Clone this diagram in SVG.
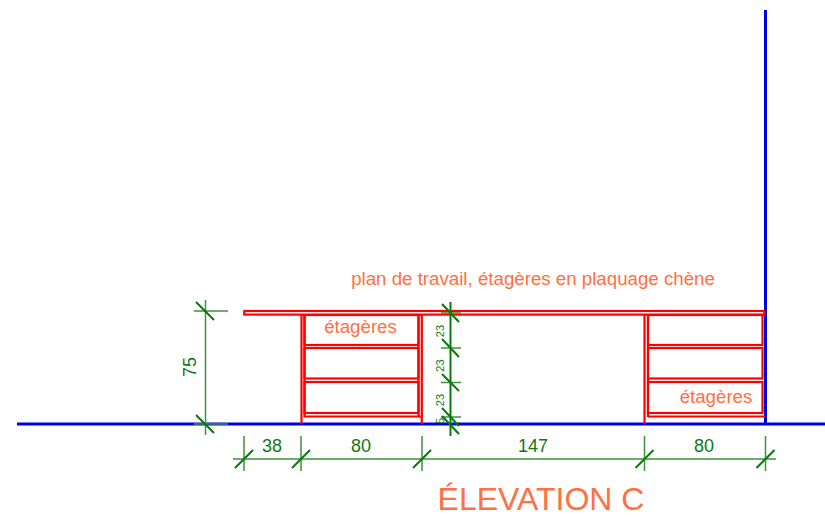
<svg xmlns="http://www.w3.org/2000/svg" width="825" height="521" viewBox="0 0 825 521">
<style>
.w{stroke:#0000e6;stroke-width:3;fill:none}
.r{stroke:#ff0000;stroke-width:2.200;fill:none}
.d{stroke:#3d933d;stroke-width:1.500;fill:none}
.t{stroke:#0a7a0a;stroke-width:2;fill:none}
.g{font-family:"Liberation Sans",Arial,sans-serif;fill:#0f7a0f}
.o{font-family:"Liberation Sans",Arial,sans-serif;fill:#ff7043}
</style>
<rect width="825" height="521" fill="#fff"/>
<g id="walls">
<path class="w" d="M17 424H825M765.500 10V424"/>
</g>
<g id="worktop">
<rect class="r" x="244.300" y="311" width="520" height="3.600"/>
</g>
<g id="cabinet-left">
<path class="r" d="M301.500 315V424M304.500 315V417M418.500 315V417M421.800 315V424M304 416.500H422"/>
<rect class="r" x="304.500" y="315" width="114" height="30"/>
<rect class="r" x="304.500" y="348" width="114" height="30.500"/>
<rect class="r" x="304.500" y="382" width="114" height="31"/>
<text class="o" x="360.500" y="333" font-size="18.700" text-anchor="middle">étagères</text>
</g>
<g id="cabinet-right">
<path class="r" d="M644.500 315V424M648 315V417M648 416.500H765"/>
<rect class="r" x="648" y="315" width="114.500" height="30"/>
<rect class="r" x="648" y="348" width="114.500" height="30.500"/>
<rect class="r" x="648" y="382" width="114.500" height="31"/>
<text class="o" x="716" y="403" font-size="18.700" text-anchor="middle">étagères</text>
</g>
<g id="connectors">
<path class="d" d="M205.500 300V435M194 311H228M194 424H228"/>
<path class="t" d="M196 302L214 320M196 415L214 433"/>
<path class="d" d="M233 459H776M244 436V471M301 436V471M422 436V471M644.500 436V471M765.500 436V471"/>
<path class="t" d="M235 468L253 450M292 468L310 450M413 468L431 450M635.500 468L653.500 450M756.500 468L774.500 450"/>
<path class="t" d="M450.500 302V436"/>
<path class="d" d="M441 313H461M441 348H461M441 382.500H461M441 417H461"/>
<path class="t" d="M442 304L459 322M442 339L459 357M442 374L459 391M442 408L459 426M442 416L459 434"/>
</g>
<g id="labels">
<text class="o" x="533" y="285" font-size="18.700" text-anchor="middle">plan de travail, étagères en plaquage chène</text>
<text class="o" x="541" y="510" font-size="32" text-anchor="middle">ÉLEVATION C</text>
<text class="g" x="272" y="452" font-size="18" text-anchor="middle">38</text>
<text class="g" x="361" y="452" font-size="18" text-anchor="middle">80</text>
<text class="g" x="533" y="452" font-size="18" text-anchor="middle">147</text>
<text class="g" x="704" y="452" font-size="18" text-anchor="middle">80</text>
<text class="g" transform="translate(196 367) rotate(-90)" font-size="18" text-anchor="middle">75</text>
<text class="g" transform="translate(444 331) rotate(-90)" font-size="11" text-anchor="middle">23</text>
<text class="g" transform="translate(444 365.500) rotate(-90)" font-size="11" text-anchor="middle">23</text>
<text class="g" transform="translate(444 400) rotate(-90)" font-size="11" text-anchor="middle">23</text>
<text class="g" transform="translate(444 421) rotate(-90)" font-size="11" text-anchor="middle">5</text>
</g>
</svg>
